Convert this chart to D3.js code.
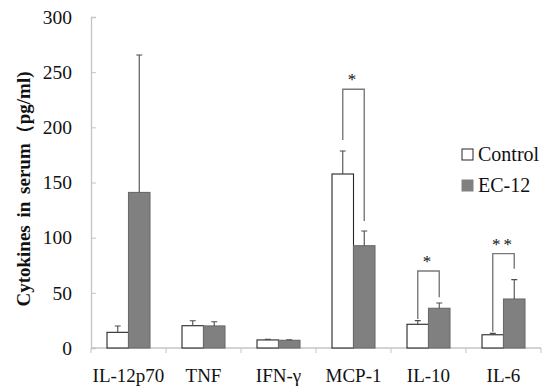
<!DOCTYPE html>
<html>
<head>
<meta charset="utf-8">
<script src="https://cdn.jsdelivr.net/npm/d3@7"></script>
<style>
  body { margin: 0; background: #fff; }
  text { font-family: "Liberation Serif", "Times New Roman", serif; fill: #111; }
</style>
</head>
<body>
<svg id="chart" width="550" height="389"></svg>
<script>
var categories = ["IL-12p70", "TNF", "IFN-\u03b3", "MCP-1", "IL-10", "IL-6"];
var series = ["Control", "EC-12"];
var controlMean = [14.2, 20.2, 7.3, 157.7, 21.5, 12];
var controlErr  = [5.8, 4.5, 0.5, 20.9, 3.3, 1.3];
var ecMean = [141, 20, 7, 92.7, 36, 44.4];
var ecErr  = [124.6, 3.8, 0.5, 13.3, 4.8, 17.6];
var yTicks = [0, 50, 100, 150, 200, 250, 300];

// significance brackets: category, top, left foot, right foot, label
var sigCats = ["MCP-1", "IL-10", "IL-6"];
var sigTop = [234.5, 69.8, 85.5];
var sigLeft = [188.5, 26.3, 14.8];
var sigRight = [115, 46, 71.9];
var sigLabel = ["*", "*", "**"];

var svg = d3.select("#chart");

var x0 = d3.scaleBand()
    .domain(categories)
    .range([91, 541])
    .paddingInner(0.427)
    .paddingOuter(0.2135);

var x1 = d3.scaleBand()
    .domain(series)
    .range([0, x0.bandwidth()]);

var y = d3.scaleLinear()
    .domain([0, 300])
    .range([348, 17]);

var colors = { "Control": "#ffffff", "EC-12": "#808080" };
var strokes = { "Control": "#262626", "EC-12": "#6a6a6a" };

var rows = categories.map(function(c, i) {
  return { cat: c, values: [
    { s: "Control", v: controlMean[i], e: controlErr[i] },
    { s: "EC-12", v: ecMean[i], e: ecErr[i] }
  ]};
});

// y axis
var yAxis = svg.append("g")
    .attr("transform", "translate(91,0)")
    .call(d3.axisLeft(y).tickValues(yTicks).tickSize(-5).tickPadding(19));
yAxis.select(".domain").attr("stroke", "#c4c4c4").attr("stroke-width", 1.3);
yAxis.selectAll(".tick line").attr("stroke", "#c4c4c4").attr("stroke-width", 1);
yAxis.selectAll(".tick text")
    .attr("font-size", 19.5)
    .attr("font-family", "Liberation Serif, serif")
    .attr("fill", "#111");

// x axis: ticks at category boundaries
var xAxis = svg.append("g")
    .attr("transform", "translate(0,348)");
xAxis.append("line")
    .attr("x1", x0.range()[0]).attr("x2", x0.range()[1])
    .attr("stroke", "#c4c4c4").attr("stroke-width", 1.3);
var bounds = categories.map(function(c) { return x0(c) - x0.step() * x0.paddingInner() / 2; });
bounds.push(x0.range()[1]);
xAxis.selectAll(".bt")
    .data(bounds)
    .enter().append("line")
    .attr("x1", function(d) { return d; })
    .attr("x2", function(d) { return d; })
    .attr("y1", 0).attr("y2", 5)
    .attr("stroke", "#c4c4c4");
xAxis.selectAll(".lbl")
    .data(categories)
    .enter().append("text")
    .attr("x", function(d) { return x0(d) + x0.bandwidth() / 2; })
    .attr("y", 33.5)
    .attr("text-anchor", "middle")
    .attr("font-size", 19)
    .text(function(d) { return d; });

// bars
var groups = svg.append("g").selectAll("g")
    .data(rows)
    .enter().append("g")
    .attr("transform", function(d) { return "translate(" + x0(d.cat) + ",0)"; });

groups.selectAll("rect")
    .data(function(d) { return d.values; })
    .enter().append("rect")
    .attr("x", function(d) { return x1(d.s); })
    .attr("y", function(d) { return y(d.v); })
    .attr("width", x1.bandwidth())
    .attr("height", function(d) { return y(0) - y(d.v); })
    .attr("fill", function(d) { return colors[d.s]; })
    .attr("stroke", function(d) { return strokes[d.s]; })
    .attr("stroke-width", 1.1);

// error bars (upper only)
groups.selectAll(".err")
    .data(function(d) { return d.values; })
    .enter().append("path")
    .attr("d", function(d) {
      var cx = x1(d.s) + x1.bandwidth() / 2;
      return "M" + cx + "," + y(d.v) + "V" + y(d.v + d.e) +
             "M" + (cx - 3) + "," + y(d.v + d.e) + "H" + (cx + 3);
    })
    .attr("fill", "none")
    .attr("stroke", "#4d4d4d")
    .attr("stroke-width", 1.1);

// significance brackets
var sig = svg.append("g");
sigCats.forEach(function(c, i) {
  var xl = x0(c) + x1("Control") + x1.bandwidth() / 2;
  var xr = x0(c) + x1("EC-12") + x1.bandwidth() / 2;
  sig.append("path")
      .attr("d", "M" + xl + "," + y(sigLeft[i]) + "V" + y(sigTop[i]) +
                 "H" + xr + "V" + y(sigRight[i]))
      .attr("fill", "none")
      .attr("stroke", "#7a7a7a")
      .attr("stroke-width", 1.4);
  sig.append("text")
      .attr("x", (xl + xr) / 2)
      .attr("y", y(sigTop[i]) - 4)
      .attr("text-anchor", "middle")
      .attr("font-size", 17)
      .attr("letter-spacing", 3)
      .text(sigLabel[i]);
});

// legend
var legend = svg.append("g").attr("transform", "translate(462,149)");
series.forEach(function(s, i) {
  var g = legend.append("g").attr("transform", "translate(0," + (i * 31) + ")");
  g.append("rect")
      .attr("width", 11).attr("height", 11)
      .attr("fill", colors[s])
      .attr("stroke", s === "Control" ? "#262626" : "#808080")
      .attr("stroke-width", 1);
  g.append("text")
      .attr("x", 16).attr("y", 11.5)
      .attr("font-size", 20)
      .text(s);
});

// y axis title
svg.append("text")
    .attr("transform", "translate(30,189) rotate(-90)")
    .attr("text-anchor", "middle")
    .attr("font-size", 19)
    .attr("font-weight", "bold")
    .attr("word-spacing", 3)
    .text("Cytokines in serum\uff08pg/ml)");
</script>
</body>
</html>
